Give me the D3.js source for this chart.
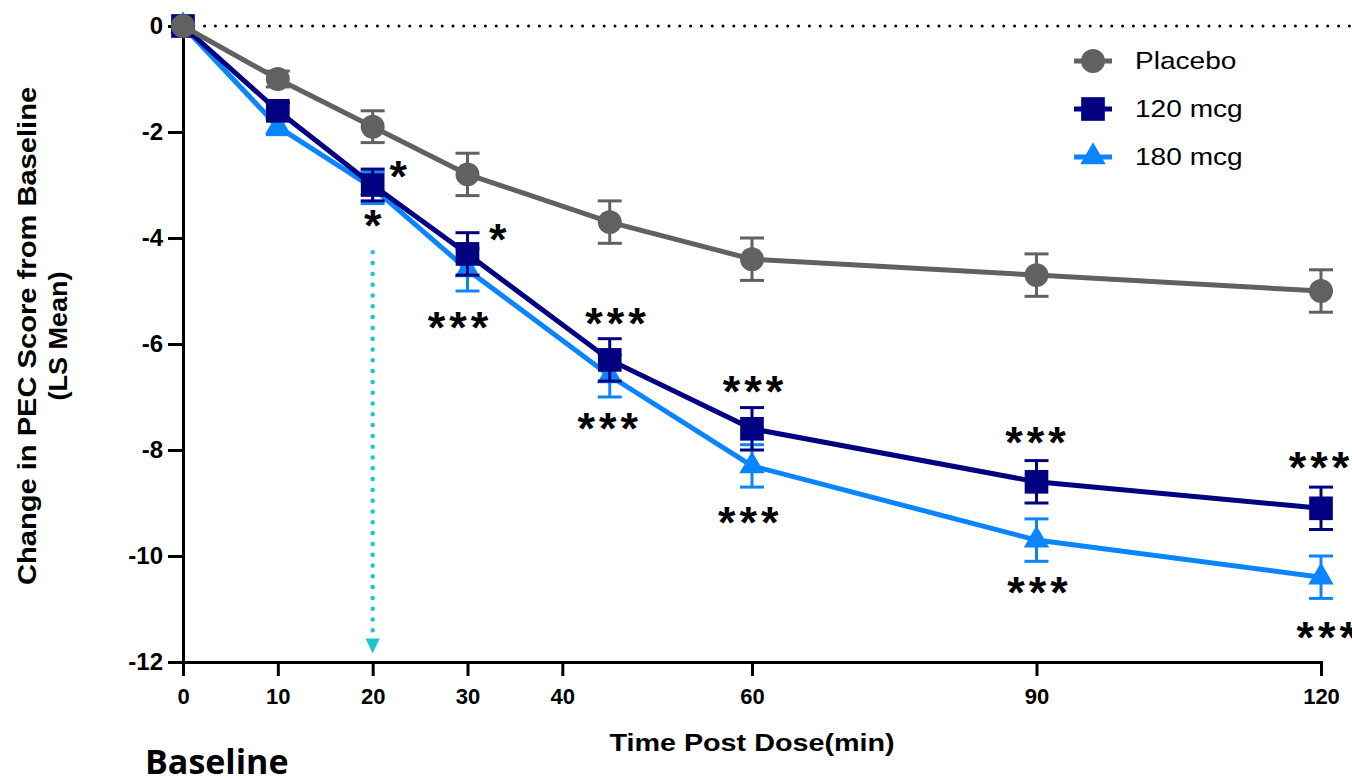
<!DOCTYPE html>
<html>
<head>
<meta charset="utf-8">
<script src="https://cdn.jsdelivr.net/npm/d3@7"></script>
<style>
  body { margin: 0; background: #fff; }
  text { font-family: Arial, "Liberation Sans", sans-serif; }
</style>
</head>
<body>
<div id="chart"></div>
<script>
// data
const times = [0, 10, 20, 30, 45, 60, 90, 120];
const placebo = [0, -1.0, -1.9, -2.8, -3.7, -4.4, -4.7, -5.0];
const placeboErr = [0, 0.15, 0.3, 0.4, 0.4, 0.4, 0.4, 0.4];
const mcg120 = [0, -1.6, -3.0, -4.3, -6.3, -7.6, -8.6, -9.1];
const mcg120Err = [0, 0.15, 0.3, 0.4, 0.4, 0.4, 0.4, 0.4];
const mcg180 = [0, -1.9, -3.05, -4.6, -6.6, -8.3, -9.7, -10.4];
const mcg180Err = [0, 0.15, 0.3, 0.4, 0.4, 0.4, 0.4, 0.4];

const xTicks = [0, 10, 20, 30, 40, 60, 90, 120];
const yTicks = [0, -2, -4, -6, -8, -10, -12];

// significance marks (time, value, label)
const sigTimes = [22.7, 20, 33.2, 29, 45.6, 44.8, 60.1, 59.6, 89.9, 90.1, 119.8, 120.6];
const sigValues = [-2.76, -3.67, -3.95, -5.6, -5.52, -7.5, -6.82, -9.28, -7.77, -10.6, -8.24, -11.46];
const sigLabels = ["*", "*", "*", "***", "***", "***", "***", "***", "***", "***", "***", "***"];

// onset arrow at 20 min
const arrowTime = 20;
const arrowFrom = -4.27;
const arrowTo = -11.65;

const W = 1352, H = 779;
const x = d3.scaleLinear().domain([0, 120]).range([183, 1321]);
const y = d3.scaleLinear().domain([0, -12]).range([26, 662]);

const series = [
  { name: "180 mcg", values: mcg180, err: mcg180Err, color: "#0a84ff", symbol: d3.symbolTriangle, size: 280 },
  { name: "120 mcg", values: mcg120, err: mcg120Err, color: "#000080", symbol: d3.symbolSquare, size: 560 },
  { name: "Placebo", values: placebo, err: placeboErr, color: "#616161", symbol: d3.symbolCircle, size: 450 },
];

const svg = d3.select("#chart").append("svg")
  .attr("width", W)
  .attr("height", H);

// dotted zero line
svg.append("line")
  .attr("x1", x(0)).attr("x2", W)
  .attr("y1", y(0)).attr("y2", y(0))
  .attr("stroke", "#000")
  .attr("stroke-width", 3)
  .attr("stroke-linecap", "round")
  .attr("stroke-dasharray", "0 10.8");

// axes
const yAxis = svg.append("g")
  .attr("transform", `translate(${x(0)},0)`)
  .call(d3.axisLeft(y).tickValues(yTicks).tickSize(15).tickPadding(5).tickFormat(d => d.toString()));
const xAxis = svg.append("g")
  .attr("transform", `translate(0,${y(-12)})`)
  .call(d3.axisBottom(x).tickValues(xTicks).tickSize(14).tickPadding(12).tickFormat(d => d.toString()));

[yAxis, xAxis].forEach(g => {
  g.selectAll(".domain, .tick line").attr("stroke", "#000").attr("stroke-width", 3);
  g.selectAll(".tick text").attr("fill", "#000").style("font-weight", "bold");
});
yAxis.selectAll(".tick text").style("font-size", "24px");
xAxis.selectAll(".tick text").style("font-size", "22px");

// axis titles (glyphs are a little wide in the original)
svg.append("text")
  .attr("transform", "translate(27,336) rotate(-90) scale(1.165,1)")
  .attr("text-anchor", "middle")
  .attr("dominant-baseline", "central")
  .style("font-size", "25px")
  .style("font-weight", "bold")
  .text("Change in PEC Score from Baseline");
svg.append("text")
  .attr("transform", "translate(58,336) rotate(-90) scale(1.08,1)")
  .attr("text-anchor", "middle")
  .attr("dominant-baseline", "central")
  .style("font-size", "25px")
  .style("font-weight", "bold")
  .text("(LS Mean)");
svg.append("text")
  .attr("transform", "translate(752,751) scale(1.25,1)")
  .attr("text-anchor", "middle")
  .style("font-size", "23px")
  .style("font-weight", "bold")
  .text("Time Post Dose(min)");

svg.append("text")
  .attr("x", 145)
  .attr("y", 774)
  .style("font-family", "'Open Sans', sans-serif")
  .style("font-size", "34px")
  .style("font-weight", "bold")
  .text("Baseline");

// onset arrow
svg.append("line")
  .attr("x1", x(arrowTime)).attr("x2", x(arrowTime))
  .attr("y1", y(arrowFrom)).attr("y2", y(arrowTo) - 6)
  .attr("stroke", "#1cc6cc")
  .attr("stroke-width", 4.5)
  .attr("stroke-linecap", "round")
  .attr("stroke-dasharray", "0 10.8");
svg.append("path")
  .attr("d", `M${x(arrowTime) - 7},${y(arrowTo) - 5} L${x(arrowTime) + 7},${y(arrowTo) - 5} L${x(arrowTime)},${y(arrowTo) + 10} Z`)
  .attr("fill", "#1cc6cc");

// series
const line = d3.line().x((d, i) => x(times[i])).y(d => y(d));

series.forEach(s => {
  const g = svg.append("g");
  g.append("path")
    .datum(s.values)
    .attr("d", line)
    .attr("fill", "none")
    .attr("stroke", s.color)
    .attr("stroke-width", 5);

  const eb = g.selectAll(".eb")
    .data(s.values.map((v, i) => ({ t: times[i], v, e: s.err[i] })).filter(d => d.e > 0))
    .enter().append("g");
  eb.append("line")
    .attr("x1", d => x(d.t)).attr("x2", d => x(d.t))
    .attr("y1", d => y(d.v + d.e)).attr("y2", d => y(d.v - d.e))
    .attr("stroke", s.color).attr("stroke-width", 3);
  [1, -1].forEach(sign => {
    eb.append("line")
      .attr("x1", d => x(d.t) - 12).attr("x2", d => x(d.t) + 12)
      .attr("y1", d => y(d.v + sign * d.e)).attr("y2", d => y(d.v + sign * d.e))
      .attr("stroke", s.color).attr("stroke-width", 3);
  });

  g.selectAll(".pt")
    .data(s.values)
    .enter().append("path")
    .attr("d", d3.symbol().type(s.symbol).size(s.size))
    .attr("transform", (d, i) => `translate(${x(times[i])},${y(d)})`)
    .attr("fill", s.color);
});

// significance marks
svg.selectAll(".sig")
  .data(sigLabels)
  .enter().append("text")
  .attr("x", (d, i) => x(sigTimes[i]) + 2)
  .attr("y", (d, i) => y(sigValues[i]) + 20)
  .attr("text-anchor", "middle")
  .style("font-size", "45px")
  .style("font-weight", "bold")
  .style("letter-spacing", "4px")
  .text(d => d);

// legend
const legend = svg.append("g").attr("transform", "translate(1093,61)");
series.slice().reverse().forEach((s, i) => {
  const row = legend.append("g").attr("transform", `translate(0,${i * 48})`);
  row.append("line")
    .attr("x1", -19).attr("x2", 19)
    .attr("stroke", s.color).attr("stroke-width", 5);
  row.append("path")
    .attr("d", d3.symbol().type(s.symbol).size(s.size))
    .attr("fill", s.color);
  row.append("text")
    .attr("transform", "translate(42,0) scale(1.17,1)")
    .attr("dy", "0.35em")
    .style("font-size", "24px")
    .text(s.name);
});
</script>
</body>
</html>
